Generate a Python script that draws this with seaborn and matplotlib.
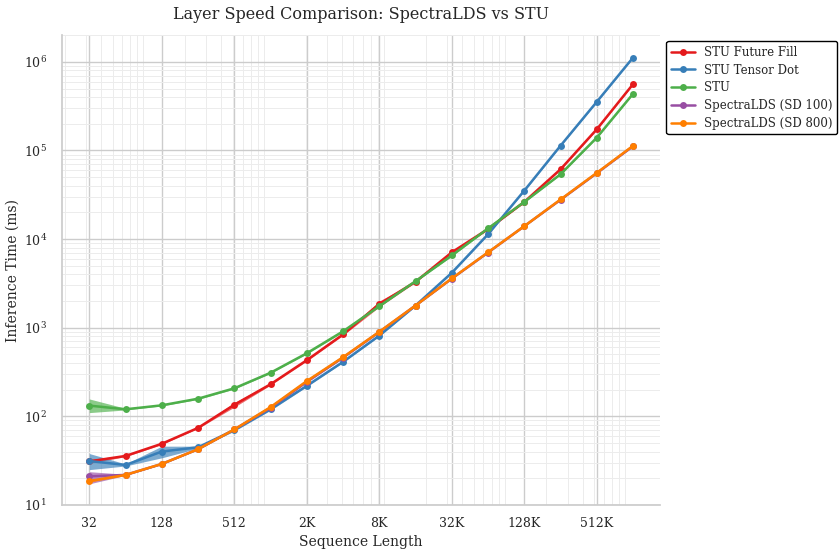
import numpy as np
import pandas as pd
import matplotlib
matplotlib.use("Agg")
import matplotlib.pyplot as plt
from matplotlib.ticker import NullFormatter
import seaborn as sns

seq_len = [32, 64, 128, 256, 512, 1024, 2048, 4096, 8192, 16384, 32768,
           65536, 131072, 262144, 524288, 1048576]

future_fill = [31, 35.7, 49, 74, 135, 230, 430, 840, 1850, 3300, 7100,
               13000, 26300, 61500, 174000, 562000]
future_fill_lo = [29.5, 35, 48, 73, 127, 225, 420, 820, 1720, 3250, 6900,
                  12700, 25800, 60500, 171000, 555000]
future_fill_hi = [32.5, 36.5, 50, 75, 143, 236, 440, 860, 2000, 3350, 7300,
                  13300, 26800, 62500, 177000, 570000]

tensor_dot = [31.3, 28.2, 40, 44.7, 70, 120, 221, 412, 815, 1780, 4170,
              11350, 35300, 113500, 355000, 1120000]
tensor_dot_lo = [25, 27.5, 34, 43.5, 68, 117, 216, 405, 800, 1750, 4100,
                 11200, 34800, 112000, 350000, 1110000]
tensor_dot_hi = [38, 29, 46, 46, 72, 123, 226, 420, 830, 1810, 4240,
                 11500, 35800, 115000, 360000, 1130000]

stu = [132, 120, 133, 158, 207, 310, 515, 910, 1750, 3350, 6530,
       13200, 26300, 54000, 140000, 437000]
stu_lo = [110, 118, 131, 155, 203, 305, 505, 895, 1720, 3300, 6430,
          13000, 25900, 53200, 138000, 432000]
stu_hi = [157, 123, 135, 161, 211, 315, 525, 925, 1780, 3400, 6630,
          13400, 26700, 54800, 142000, 442000]

sd100 = [21, 21.8, 29, 42.5, 71, 125, 245, 460, 895, 1780, 3580,
         7050, 14000, 27800, 55500, 112000]
sd100_lo = [17.3, 21.5, 28.5, 42, 70, 123, 241, 453, 885, 1760, 3550,
            7000, 13900, 27600, 55000, 111000]
sd100_hi = [23.7, 22.2, 29.5, 43, 72, 127, 249, 467, 905, 1800, 3610,
            7100, 14100, 28000, 56000, 113000]

sd800 = [18.6, 21.8, 29, 42.5, 71, 127, 250, 465, 900, 1780, 3600,
         7100, 14000, 28000, 56000, 113000]
sd800_lo = [18.0, 21.5, 28.6, 42, 70, 125, 246, 458, 890, 1765, 3570,
            7050, 13900, 27800, 55500, 112000]
sd800_hi = [19.3, 22.1, 29.4, 43, 72, 129, 254, 472, 910, 1795, 3630,
            7150, 14100, 28200, 56500, 114000]

tick_vals = [32, 128, 512, 2048, 8192, 32768, 131072, 524288]
tick_labels = ["32", "128", "512", "2K", "8K", "32K", "128K", "512K"]

series = [
    ("STU Future Fill", future_fill, future_fill_lo, future_fill_hi, "#e41a1c"),
    ("STU Tensor Dot", tensor_dot, tensor_dot_lo, tensor_dot_hi, "#377eb8"),
    ("STU", stu, stu_lo, stu_hi, "#4daf4a"),
    ("SpectraLDS (SD 100)", sd100, sd100_lo, sd100_hi, "#984ea3"),
    ("SpectraLDS (SD 800)", sd800, sd800_lo, sd800_hi, "#ff7f00"),
]

sns.set_theme(style="whitegrid")
plt.rcParams["font.family"] = ["DejaVu Serif"]
plt.rcParams["mathtext.fontset"] = "dejavuserif"

fig = plt.figure(figsize=(8.39, 5.5), dpi=100)
ax = fig.add_axes([0.074, 0.082, 0.713, 0.854])

for name, y, lo, hi, col in series:
    df = pd.DataFrame({"x": seq_len, "y": y})
    ax.fill_between(seq_len, lo, hi, color=col, alpha=0.65, linewidth=0)
    sns.lineplot(data=df, x="x", y="y", ax=ax, color=col, label=name,
                 marker="o", markersize=5, linewidth=1.8,
                 markeredgewidth=0)

ax.set_xscale("log")
ax.set_yscale("log")
ax.set_xticks(tick_vals)
ax.set_xticklabels(tick_labels)
ax.xaxis.set_minor_formatter(NullFormatter())
ax.set_ylim(10, 2e6)
ax.grid(True, which="major", color="#cccccc", linewidth=1.0)
ax.grid(True, which="minor", color="#ececec", linewidth=0.7)
ax.tick_params(axis="x", labelsize=9, pad=3)
ax.tick_params(axis="y", labelsize=9, pad=5)

ax.set_xlabel("Sequence Length", fontsize=10, labelpad=3)
ax.set_ylabel("Inference Time (ms)", fontsize=10, labelpad=3)
ax.set_title("Layer Speed Comparison: SpectraLDS vs STU", fontsize=11.5, pad=12)
sns.despine(ax=ax)

leg = ax.legend(loc="upper left", bbox_to_anchor=(1.0, 1.0), fontsize=8.5,
                frameon=True, framealpha=1, labelspacing=0.4)
leg.get_frame().set_edgecolor("black")

fig.savefig("out.png", dpi=100)
